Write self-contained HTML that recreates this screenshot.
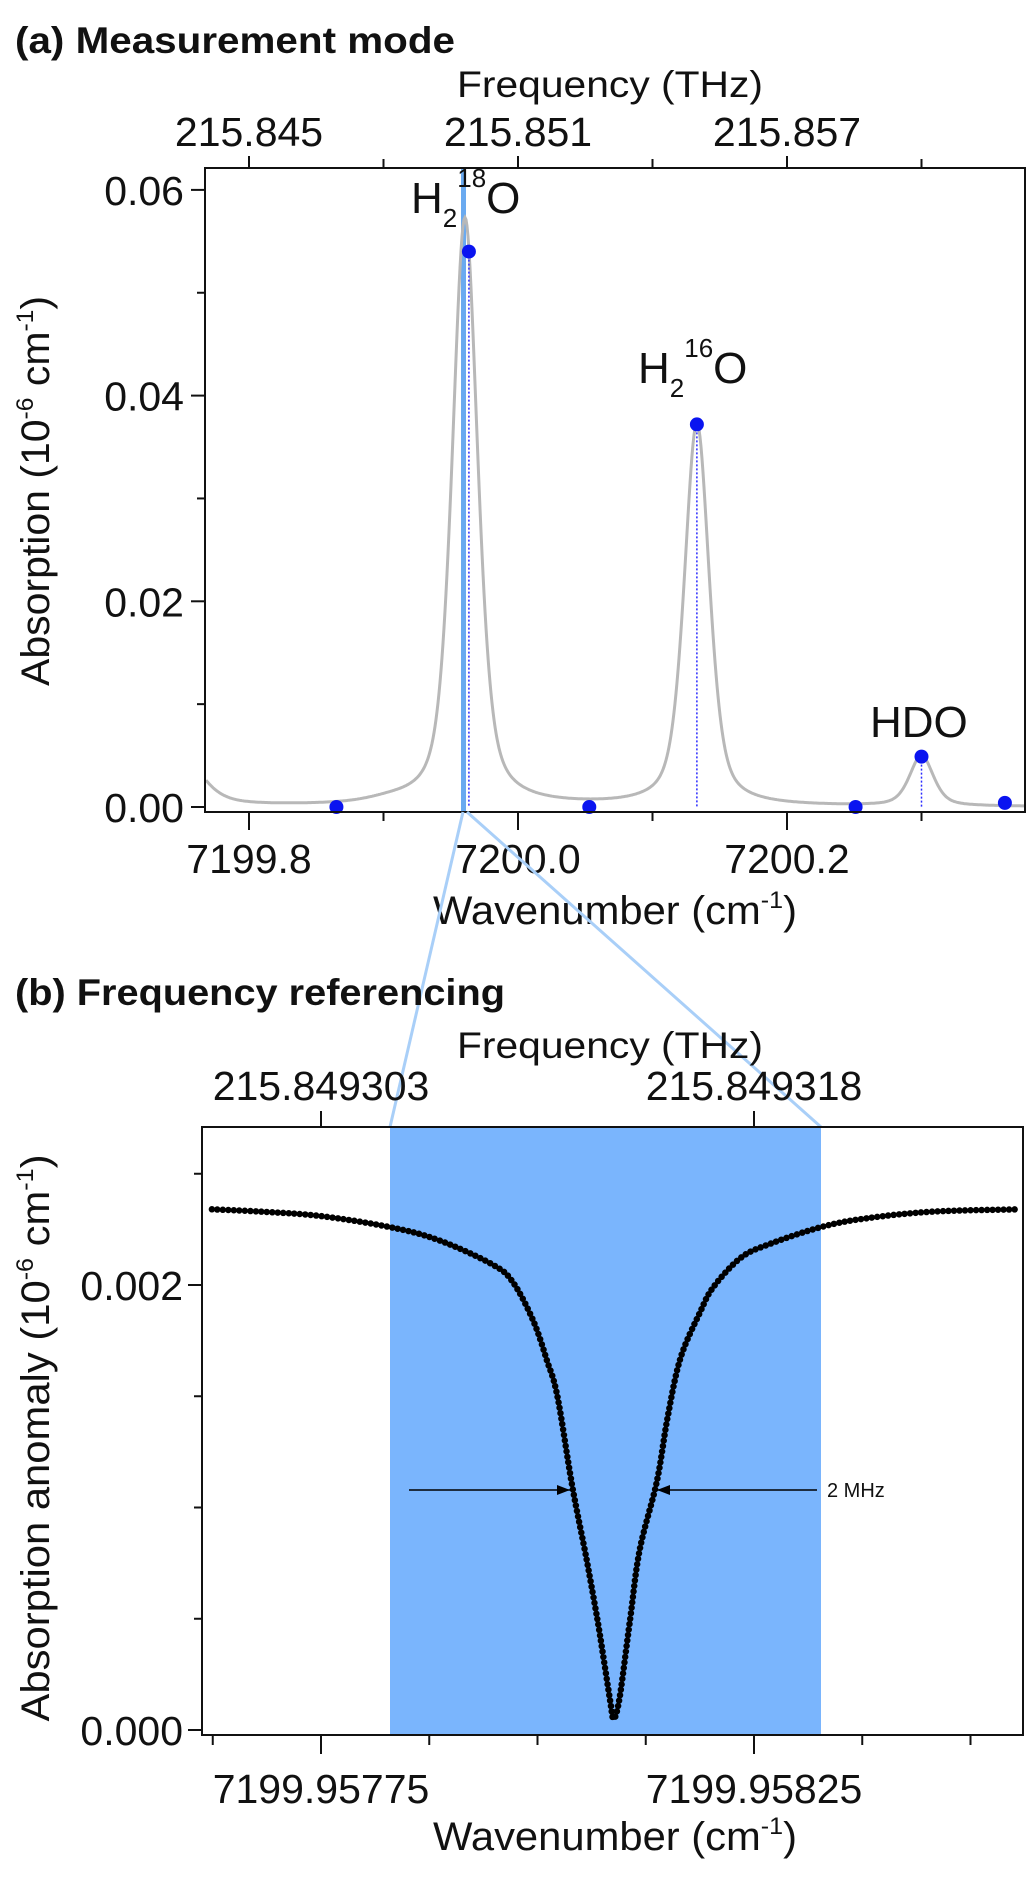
<!DOCTYPE html>
<html><head><meta charset="utf-8"><style>
html,body{margin:0;padding:0;background:#fff;}
svg text{font-family:"Liberation Sans",sans-serif;fill:#111;}
</style></head><body>
<svg id="fig" width="1033" height="1872" viewBox="0 0 1033 1872" xmlns="http://www.w3.org/2000/svg">
<g id="A"></g>
<g id="B"></g>
</svg>
<script>
// ---- Panel (a) data ----
const peakCenters = [7199.9606, 7200.133, 7200.300, 7199.745, 7199.905];
const peakHeights = [0.0572, 0.0372, 0.0049, 0.006, 0.0003];
const peakWidths = [0.0225, 0.022, 0.021, 0.04, 0.04];
const dotWn = [7199.865, 7199.9635, 7200.053, 7200.133, 7200.251, 7200.300, 7200.362];
const dotAbs = [0.0, 0.054, 0.0, 0.0372, 0.0, 0.0049, 0.0004];
const xTicksA = [7199.8, 7200.0, 7200.2];
const xTickLabelsA = ["7199.8", "7200.0", "7200.2"];
const xMinorA = [7199.9, 7200.1, 7200.3];
const topTickLabelsA = ["215.845", "215.851", "215.857"];
const yTicksA = [0, 0.02, 0.04, 0.06];
const yTickLabelsA = ["0.00", "0.02", "0.04", "0.06"];
const yMinorA = [0.01, 0.03, 0.05];
// ---- Panel (b) data ----
const anomWn = [7199.957624,7199.957680,7199.957749,7199.957830,7199.957887,7199.957949,7199.957972,7199.957995,7199.958011,7199.958023,7199.958040,7199.958057,7199.958069,7199.958076,7199.958084,7199.958088,7199.958095,7199.958107,7199.958118,7199.958138,7199.958150,7199.958165,7199.958188,7199.958203,7199.958234,7199.958265,7199.958327,7199.958380,7199.958457,7199.958557];
const anomVal = [2.34,2.33,2.31,2.26,2.20,2.09,2.01,1.84,1.66,1.50,1.10,0.76,0.50,0.33,0.13,0.05,0.15,0.50,0.81,1.12,1.40,1.67,1.88,1.99,2.12,2.18,2.26,2.30,2.33,2.34];
const xTicksB = [7199.95775, 7199.95825];
const xTickLabelsB = ["7199.95775", "7199.95825"];
const xMinorB = [7199.957625, 7199.957875, 7199.958, 7199.958125, 7199.958375, 7199.9585];
const topTickLabelsB = ["215.849303", "215.849318"];
const yTicksB = [0, 2];
const yTickLabelsB = ["0.000", "0.002"];
const yMinorB = [0.5, 1, 1.5, 2.5];
const bandB = [7199.95775 + 69/866000, 7199.95775 + 500/866000];

const NS = "http://www.w3.org/2000/svg";
function mk(parent, tag, attrs, text){const e=document.createElementNS(NS,tag);for(const k in attrs)e.setAttribute(k,attrs[k]);if(text!==undefined)e.textContent=text;parent.appendChild(e);return e;}

const xA = w => 249 + (w - 7199.8) * 1345;
const yA = v => 807 - v * 10285;
const xB = w => 321 + (w - 7199.95775) * 866000;
const yB = v => 1730 - v * 222.5;

// ===== Panel A =====
const A = document.getElementById('A');
let t = mk(A,'text',{x:15,y:53,'font-size':37,'font-weight':'bold',textLength:440,lengthAdjust:'spacingAndGlyphs'},'(a) Measurement mode');
 
t = mk(A,'text',{x:610,y:97,'font-size':37,'text-anchor':'middle',textLength:306,lengthAdjust:'spacingAndGlyphs'},'Frequency (THz)');
 
let r = mk(A,'rect',{x:461,y:168,width:5,height:644,fill:'#6aaaf0'});
 
let d='';
for(let px=206; px<=1024; px+=1){
  const w = 7199.8 + (px-249)/1345; let v=0;
  for(let i=0;i<peakCenters.length;i++){const g=peakWidths[i]/2; const dx=(w-peakCenters[i])/g;
    v += peakHeights[i]*(0.5*Math.exp(-Math.LN2*dx*dx)+0.5/(1+dx*dx));}
  d += (d?'L':'M')+px+','+yA(v).toFixed(1);
}
let p = mk(A,'path',{d:d,fill:'none',stroke:'#b8b8b8','stroke-width':3});
 
for(let i=0;i<dotWn.length;i++){
  if(dotAbs[i]>0.001){const l=mk(A,'line',{x1:xA(dotWn[i]),x2:xA(dotWn[i]),y1:yA(dotAbs[i]),y2:807,stroke:'#2a2aff','stroke-width':1.5,'stroke-dasharray':'2 2'});
     }
  const c=mk(A,'circle',{cx:xA(dotWn[i]),cy:yA(dotAbs[i]),r:7,fill:'#0a14f0'});
   
}
r = mk(A,'rect',{x:205,y:168,width:820,height:644,fill:'none',stroke:'#111','stroke-width':2});
 
for(let i=0;i<xTicksA.length;i++){
  const x=xA(xTicksA[i]);
  mk(A,'line',{x1:x,x2:x,y1:812,y2:830,stroke:'#111','stroke-width':2});
  mk(A,'line',{x1:x,x2:x,y1:168,y2:156,stroke:'#111','stroke-width':2});
  t=mk(A,'text',{x:x,y:873,'font-size':41,'text-anchor':'middle'},xTickLabelsA[i]);
   
  t=mk(A,'text',{x:x,y:146,'font-size':41,'text-anchor':'middle'},topTickLabelsA[i]);
   
}
for(const m of xMinorA){const x=xA(m);
  mk(A,'line',{x1:x,x2:x,y1:812,y2:821,stroke:'#111','stroke-width':2});
  mk(A,'line',{x1:x,x2:x,y1:168,y2:159,stroke:'#111','stroke-width':2});}
for(let i=0;i<yTicksA.length;i++){const y=yA(yTicksA[i]);
  mk(A,'line',{x1:205,x2:191,y1:y,y2:y,stroke:'#111','stroke-width':2});
  t=mk(A,'text',{x:184,y:y+15,'font-size':41,'text-anchor':'end'},yTickLabelsA[i]);
   }
for(const m of yMinorA){const y=yA(m);mk(A,'line',{x1:205,x2:197,y1:y,y2:y,stroke:'#111','stroke-width':2});}
t=mk(A,'text',{x:615,y:924,'font-size':40,'text-anchor':'middle',textLength:364,lengthAdjust:'spacingAndGlyphs'},'Wavenumber (cm');
mk(t,'tspan',{'font-size':24,dy:-16},'-1'); mk(t,'tspan',{dy:16},')');
 
t=mk(A,'text',{transform:'translate(49,491) rotate(-90)','font-size':40,'text-anchor':'middle',textLength:390,lengthAdjust:'spacingAndGlyphs'},'Absorption (10');
mk(t,'tspan',{'font-size':24,dy:-16},'-6'); mk(t,'tspan',{dy:16},' cm'); mk(t,'tspan',{'font-size':24,dy:-16},'-1'); mk(t,'tspan',{dy:16},')');
 
function lbl(x,y,sup,name){const e=mk(A,'text',{x:x,y:y,'font-size':44},'H');mk(e,'tspan',{'font-size':26,dy:14},'2');mk(e,'tspan',{'font-size':26,dy:-40},sup);mk(e,'tspan',{dy:26},'O');
   }
lbl(411,213,'18','label-h2-18o'); lbl(638,383,'16','label-h2-16o');
t=mk(A,'text',{x:870,y:737,'font-size':44},'HDO');  

const B = document.getElementById('B');
let l=mk(B,'line',{x1:463,y1:812,x2:xB(bandB[0]),y2:1127,stroke:'#a9cff8','stroke-width':3});
 
l=mk(B,'line',{x1:467,y1:812,x2:xB(bandB[1]),y2:1127,stroke:'#a9cff8','stroke-width':3});
 

// ===== Panel B =====
t=mk(B,'text',{x:15,y:1005,'font-size':37,'font-weight':'bold',textLength:490,lengthAdjust:'spacingAndGlyphs'},'(b) Frequency referencing');
 
t=mk(B,'text',{x:610,y:1058,'font-size':37,'text-anchor':'middle',textLength:306,lengthAdjust:'spacingAndGlyphs'},'Frequency (THz)');
 
r=mk(B,'rect',{x:xB(bandB[0]),y:1127,width:xB(bandB[1])-xB(bandB[0]),height:608,fill:'#7ab5fd'});
 
const pts = anomWn.map((w,i)=>[xB(w), yB(anomVal[i])]);
let pd='M'+pts[0][0].toFixed(1)+','+pts[0][1].toFixed(1);
for(let i=0;i<pts.length-1;i++){
  const p0=pts[Math.max(0,i-1)], p1=pts[i], p2=pts[i+1], p3=pts[Math.min(pts.length-1,i+2)];
  const c1=[p1[0]+(p2[0]-p0[0])/6, p1[1]+(p2[1]-p0[1])/6];
  const c2=[p2[0]-(p3[0]-p1[0])/6, p2[1]-(p3[1]-p1[1])/6];
  pd+=`C${c1[0].toFixed(1)},${c1[1].toFixed(1)} ${c2[0].toFixed(1)},${c2[1].toFixed(1)} ${p2[0].toFixed(1)},${p2[1].toFixed(1)}`;
}
p=mk(B,'path',{d:pd,fill:'none',stroke:'#000','stroke-width':6.5,'stroke-linecap':'round','stroke-dasharray':'0 5.5'});
 
function arrow(x1,x2,name){const g=mk(B,'g',{});mk(g,'line',{x1:x1,x2:x2,y1:1490,y2:1490,stroke:'#000','stroke-width':1.5});
  const s=x2>x1?-1:1; mk(g,'path',{d:`M${x2},1490 L${x2+s*13},1485 L${x2+s*13},1495 Z`,fill:'#000'});
   }
arrow(409,570,'fwhm-arrow-left'); arrow(817,657,'fwhm-arrow-right');
t=mk(B,'text',{x:827,y:1497,'font-size':20},'2 MHz');  
r=mk(B,'rect',{x:202,y:1127,width:821,height:608,fill:'none',stroke:'#111','stroke-width':2});
 
for(let i=0;i<xTicksB.length;i++){const x=xB(xTicksB[i]);
  mk(B,'line',{x1:x,x2:x,y1:1735,y2:1754,stroke:'#111','stroke-width':2});
  mk(B,'line',{x1:x,x2:x,y1:1127,y2:1111,stroke:'#111','stroke-width':2});
  t=mk(B,'text',{x:x,y:1803,'font-size':41,'text-anchor':'middle'},xTickLabelsB[i]);
   
  t=mk(B,'text',{x:x,y:1100,'font-size':41,'text-anchor':'middle'},topTickLabelsB[i]);
   }
for(const m of xMinorB){const x=xB(m);mk(B,'line',{x1:x,x2:x,y1:1735,y2:1745,stroke:'#111','stroke-width':2});}
for(let i=0;i<yTicksB.length;i++){const y=yB(yTicksB[i]);
  mk(B,'line',{x1:202,x2:188,y1:y,y2:y,stroke:'#111','stroke-width':2});
  t=mk(B,'text',{x:183,y:y+15,'font-size':41,'text-anchor':'end'},yTickLabelsB[i]);
   }
for(const m of yMinorB){const y=yB(m);mk(B,'line',{x1:202,x2:194,y1:y,y2:y,stroke:'#111','stroke-width':2});}
t=mk(B,'text',{x:615,y:1850,'font-size':40,'text-anchor':'middle',textLength:364,lengthAdjust:'spacingAndGlyphs'},'Wavenumber (cm');
mk(t,'tspan',{'font-size':24,dy:-16},'-1'); mk(t,'tspan',{dy:16},')');
 
t=mk(B,'text',{transform:'translate(49,1438) rotate(-90)','font-size':40,'text-anchor':'middle',textLength:567,lengthAdjust:'spacingAndGlyphs'},'Absorption anomaly (10');
mk(t,'tspan',{'font-size':24,dy:-16},'-6'); mk(t,'tspan',{dy:16},' cm'); mk(t,'tspan',{'font-size':24,dy:-16},'-1'); mk(t,'tspan',{dy:16},')');
 
</script>
</body></html>
